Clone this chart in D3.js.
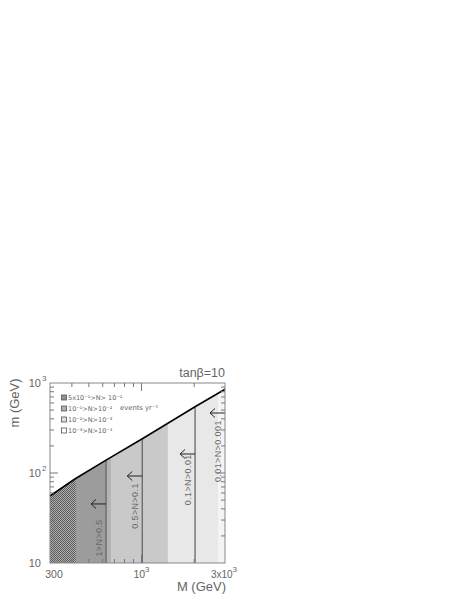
<!DOCTYPE html>
<html>
<head>
<meta charset="utf-8">
<script src="https://cdn.jsdelivr.net/npm/d3@7"></script>
<style>
  body { margin: 0; background: #fff; }
  text { font-family: "Liberation Sans", "DejaVu Sans", sans-serif; fill: #666; }
  text.small { font-family: "DejaVu Sans", sans-serif; }
</style>
</head>
<body>
<script>
// upper boundary of the allowed region (M, m) in GeV
const boundaryM = [300, 416, 627, 1022, 2023, 3000];
const boundaryMass = [55.5, 85.8, 139, 243, 545, 851];

// shaded bands along M (edges), first one is hatched
const bandEdges = [300, 422, 627, 669, 1416, 2735, 3000];

// vertical limit lines and their labels / arrows
const limitM = [627, 1010, 2023, 3000];
const limitLabels = ["1>N>0.5", "0.5>N>0.1", "0.1>N>0.01", "0.01>N>0.001"];
const arrowMass = [45.3, 92.6, 162.6, 464];
const labelMass = [19, 43, 84, 175];

// legend
const legendLabels = ["5x10⁻¹>N> 10⁻¹", "10⁻¹>N>10⁻²", "10⁻²>N>10⁻³", "10⁻³>N>10⁻⁴"];

// ticks
const xMinorTicks = [400, 500, 600, 700, 800, 900, 2000];
const xMajorTicks = [1000];
const yMinorTicks = [20, 30, 40, 50, 60, 70, 80, 90, 200, 300, 400, 500, 600, 700, 800, 900];
const yMajorTicks = [100];

const width = 469, height = 607;
const plotLeft = 50, plotRight = 225, plotTop = 383, plotBottom = 563;

const bandColors = ["url(#hatch)", "#9c9c9c", "#b3b3b3", "#c9c9c9", "#e8e8e8", "#f4f4f4"];
const legendColors = ["#8f8f8f", "#b0b0b0", "#dedede", "#ffffff"];

const x = d3.scaleLog().domain([300, 3000]).range([plotLeft, plotRight]);
const y = d3.scaleLog().domain([10, 1000]).range([plotBottom, plotTop]);

const svg = d3.select("body").append("svg")
    .attr("width", width)
    .attr("height", height);

const defs = svg.append("defs");

// checker pattern for the first band
const pat = defs.append("pattern")
    .attr("id", "hatch")
    .attr("patternUnits", "userSpaceOnUse")
    .attr("width", 2).attr("height", 2);
pat.append("rect").attr("width", 2).attr("height", 2).attr("fill", "#b0b0b0");
pat.append("rect").attr("width", 1).attr("height", 1).attr("fill", "#5a5a5a");
pat.append("rect").attr("x", 1).attr("y", 1).attr("width", 1).attr("height", 1).attr("fill", "#5a5a5a");

const boundary = boundaryM.map((d, i) => [d, boundaryMass[i]]);

// area under the boundary curve, used as clip for the bands
const underArea = d3.area()
    .x(d => x(d[0]))
    .y0(y(10))
    .y1(d => y(d[1]));

defs.append("clipPath").attr("id", "under")
    .append("path")
    .attr("d", underArea(boundary));

const bands = svg.append("g").attr("clip-path", "url(#under)");
bands.selectAll("rect")
    .data(d3.pairs(bandEdges))
    .enter()
    .append("rect")
    .attr("x", d => x(d[0]))
    .attr("width", d => x(d[1]) - x(d[0]))
    .attr("y", y(1000))
    .attr("height", y(10) - y(1000))
    .attr("fill", (d, i) => bandColors[i]);

// vertical limit lines, clipped to the region as well
bands.selectAll("line.limit")
    .data(limitM.slice(0, 3))
    .enter()
    .append("line")
    .attr("class", "limit")
    .attr("x1", d => x(d)).attr("x2", d => x(d))
    .attr("y1", y(10)).attr("y2", y(1000))
    .attr("stroke", "#666")
    .attr("stroke-width", 1.3);

// boundary curve
svg.append("path")
    .attr("d", d3.line().x(d => x(d[0])).y(d => y(d[1]))(boundary))
    .attr("fill", "none")
    .attr("stroke", "#000")
    .attr("stroke-width", 1.6);

// arrows pointing to lower M
svg.selectAll("path.arrow")
    .data(limitM)
    .enter()
    .append("path")
    .attr("class", "arrow")
    .attr("d", (d, i) => {
        const x1 = x(d), x0 = x(d) - 15, yy = y(arrowMass[i]);
        return "M" + x1 + "," + yy + "L" + x0 + "," + yy +
            "M" + (x0 + 5) + "," + (yy - 4.5) + "L" + x0 + "," + yy + "L" + (x0 + 5) + "," + (yy + 4.5);
    })
    .attr("fill", "none")
    .attr("stroke", "#222")
    .attr("stroke-width", 1);

// rotated labels next to each line
svg.selectAll("text.limitLabel")
    .data(limitLabels)
    .enter()
    .append("text")
    .attr("class", "limitLabel")
    .attr("transform", (d, i) => "translate(" + (x(limitM[i]) - 4) + "," + y(labelMass[i]) + ") rotate(-90)")
    .attr("text-anchor", "middle")
    .style("font-size", "9px")
    .style("letter-spacing", "0.4px")
    .text(d => d);

// frame
svg.append("rect")
    .attr("x", plotLeft).attr("y", plotTop)
    .attr("width", plotRight - plotLeft).attr("height", plotBottom - plotTop)
    .attr("fill", "none")
    .attr("stroke", "#888")
    .attr("stroke-width", 1);

// ticks on all four sides, pointing inward
function xTicks(vals, len) {
    svg.selectAll(null).data(vals).enter().append("line")
        .attr("x1", d => x(d)).attr("x2", d => x(d))
        .attr("y1", plotBottom).attr("y2", plotBottom - len)
        .attr("stroke", "#777");
    svg.selectAll(null).data(vals).enter().append("line")
        .attr("x1", d => x(d)).attr("x2", d => x(d))
        .attr("y1", plotTop).attr("y2", plotTop + len)
        .attr("stroke", "#777");
}
function yTicks(vals, len) {
    svg.selectAll(null).data(vals).enter().append("line")
        .attr("y1", d => y(d)).attr("y2", d => y(d))
        .attr("x1", plotLeft).attr("x2", plotLeft + len)
        .attr("stroke", "#777");
    svg.selectAll(null).data(vals).enter().append("line")
        .attr("y1", d => y(d)).attr("y2", d => y(d))
        .attr("x1", plotRight).attr("x2", plotRight - len)
        .attr("stroke", "#777");
}
xTicks(xMinorTicks, 4);
xTicks(xMajorTicks, 8);
yTicks(yMinorTicks, 4);
yTicks(yMajorTicks, 8);

// y tick labels
const yLabels = [[1000, "3"], [100, "2"], [10, ""]];
yLabels.forEach(d => {
    svg.append("text")
        .attr("x", plotLeft - 9).attr("y", y(d[0]) + 4)
        .attr("text-anchor", "end")
        .style("font-size", "11px")
        .text("10");
    if (d[1]) {
        svg.append("text")
            .attr("x", plotLeft - 8).attr("y", y(d[0]) - 2)
            .style("font-size", "8px")
            .text(d[1]);
    }
});

// x tick labels
svg.append("text")
    .attr("x", x(300) + 4).attr("y", plotBottom + 15)
    .attr("text-anchor", "middle")
    .style("font-size", "10.5px")
    .text("300");

const xl1 = svg.append("text")
    .attr("x", x(1000)).attr("y", plotBottom + 15)
    .attr("text-anchor", "middle")
    .style("font-size", "10.5px");
xl1.append("tspan").text("10");
xl1.append("tspan").attr("dy", -6).style("font-size", "8px").text("3");

const xl2 = svg.append("text")
    .attr("x", plotRight - 1).attr("y", plotBottom + 15)
    .attr("text-anchor", "middle")
    .style("font-size", "10px");
xl2.append("tspan").text("3x10");
xl2.append("tspan").attr("dy", -6).style("font-size", "8px").text("3");

// axis titles
svg.append("text")
    .attr("x", plotRight + 1).attr("y", 591)
    .attr("text-anchor", "end")
    .style("font-size", "13px")
    .text("M (GeV)");

svg.append("text")
    .attr("transform", "translate(19," + 403 + ") rotate(-90)")
    .attr("text-anchor", "middle")
    .style("font-size", "13px")
    .text("m (GeV)");

svg.append("text")
    .attr("x", plotRight).attr("y", 377)
    .attr("text-anchor", "end")
    .style("font-size", "12.5px")
    .text("tanβ=10");

// legend
const legend = svg.append("g");
legend.selectAll("rect")
    .data(legendLabels)
    .enter()
    .append("rect")
    .attr("x", 61.5)
    .attr("y", (d, i) => 395 + i * 11)
    .attr("width", 5).attr("height", 5)
    .attr("fill", (d, i) => legendColors[i])
    .attr("stroke", "#555")
    .attr("stroke-width", 0.8);

legend.selectAll("text")
    .data(legendLabels)
    .enter()
    .append("text")
    .attr("class", "small")
    .attr("x", 68)
    .attr("y", (d, i) => 400 + i * 11)
    .style("font-size", "6.5px")
    .text(d => d);

svg.append("text")
    .attr("class", "small")
    .attr("x", 120).attr("y", 410)
    .style("font-size", "6.8px")
    .text("events yr⁻¹");
</script>
</body>
</html>
